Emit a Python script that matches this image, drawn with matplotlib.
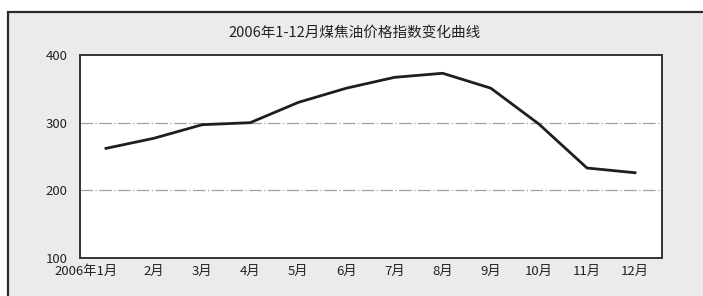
import matplotlib.pyplot as plt
import matplotlib.transforms as mtransforms
from matplotlib.patches import Rectangle

plt.rcParams["font.family"] = ["Noto Sans CJK SC", "DejaVu Sans"]

months = ["2006年1月", "2月", "3月", "4月", "5月", "6月",
          "7月", "8月", "9月", "10月", "11月", "12月"]
index = [262, 277, 297, 300, 330, 351, 367, 373, 351, 298, 233, 226]
yticks = [100, 200, 300, 400]
title = "2006年1-12月煤焦油价格指数变化曲线"

W, H = 703, 296
fig = plt.figure(figsize=(W / 100, H / 100), dpi=100, facecolor="white")

# gray panel with dark frame (top and left edges visible)
fig.patches.append(Rectangle((8 / W, -0.1), 1.2, (H - 12) / H + 0.1,
                             transform=fig.transFigure, facecolor="#ebebeb",
                             edgecolor="#2a2a2a", linewidth=1.6, zorder=-5))

ax = fig.add_axes([80 / W, 38 / H, 582 / W, 203 / H])
ax.set_zorder(2)
ax.set_facecolor("white")
x = list(range(len(months)))
ax.plot(x, index, color="#1e1e1e", linewidth=2.0, solid_joinstyle="round")

ax.set_xlim(-0.54, 11.56)
ax.set_ylim(100, 400)
ax.set_yticks(yticks)
ax.set_xticks(x)
ax.set_xticklabels(months)
ax.tick_params(axis="y", length=0, pad=9, colors="#222222", labelsize=9.5)
ax.tick_params(axis="x", length=0, pad=5, colors="#222222", labelsize=9.5)
for y in [200, 300]:
    ax.axhline(y, color="#a0a0a0", linewidth=0.9, linestyle=(0, (10, 2, 1, 2)),
               zorder=0)
for s in ax.spines.values():
    s.set_color("#333333")
    s.set_linewidth(1.4)

# first label sits left of its point
lbl = ax.get_xticklabels()[0]
lbl.set_ha("right")
lbl.set_transform(lbl.get_transform() +
                  mtransforms.ScaledTranslation(12 / 100, 0, fig.dpi_scale_trans))

fig.text(355 / W, 1 - 33 / H, title, ha="center", va="center",
         fontsize=10.5, color="#222222")

fig.savefig("out.png", dpi=100, facecolor=fig.get_facecolor())
